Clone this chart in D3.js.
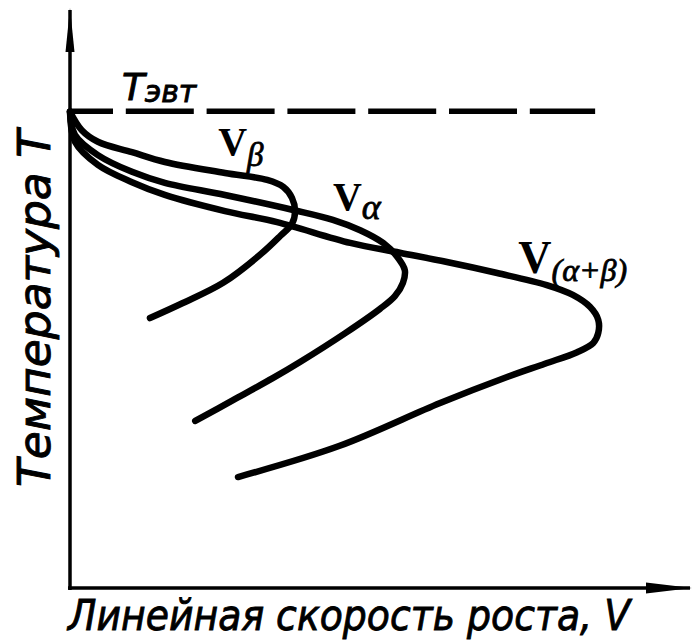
<!DOCTYPE html>
<html>
<head>
<meta charset="utf-8">
<script src="https://cdn.jsdelivr.net/npm/d3@7"></script>
<style>
  html, body { margin: 0; padding: 0; background: #fff; }
  svg { display: block; }
</style>
</head>
<body>
<svg id="chart" width="695" height="644"></svg>
<script>
// Linear growth rate V of the β, α and eutectoid (α+β) fronts versus temperature T.
// Units are relative (0–100) on both axes.

// Eutectoid temperature
const T_EVT = 82.5;

// β phase
const T_BETA = [82.4, 79.2, 77.2, 75.4, 73.7, 71.8, 70.6, 69.4, 67.5, 65.2, 63.0, 60.9, 57.6, 52.8, 49.3, 46.7];
const V_BETA = [0, 1.9, 4.5, 10.0, 15.3, 25.0, 31.8, 34.4, 35.8, 36.3, 35.8, 33.9, 30.6, 24.7, 18.2, 12.9];

// α phase
const T_ALPHA = [82.4, 78.4, 74.9, 72.0, 70.1, 68.0, 65.4, 63.7, 61.9, 59.7, 57.4, 55.0, 52.8, 50.5, 48.3, 44.1, 39.1, 36.3, 32.5, 28.9];
const V_ALPHA = [0, 0.8, 4.5, 10.0, 15.3, 25.0, 36.0, 42.4, 46.8, 50.5, 52.7, 54.0, 53.7, 52.4, 50.0, 44.4, 37.1, 32.7, 26.3, 20.2];

// eutectoid colony (α+β)
const T_EUT = [82.4, 77.2, 73.2, 70.2, 68.0, 65.2, 63.3, 59.7, 58.0, 56.4, 54.5, 52.4, 50.7, 48.6, 46.4, 44.1, 42.4, 40.8, 38.8, 36.5, 32.0, 24.6, 19.2];
const V_EUT = [0, 0.8, 4.5, 10.0, 15.3, 25.0, 33.4, 45.2, 53.2, 60.8, 68.9, 76.9, 81.1, 83.9, 85.2, 85.2, 84.4, 81.8, 76.6, 70.5, 59.7, 43.5, 27.1];

// Texts
const LABEL_EVT = ["Т", "эвт"];
const CURVE_LABELS = [
  { main: "V", sub: "β" },
  { main: "V", sub: "α" },
  { main: "V", sub: "(α+β)" }
];
const X_TITLE = "Линейная скорость роста, V";
const Y_TITLE = "Температура T";

// ---------------------------------------------------------------
const svg = d3.select("#chart");

const x = d3.scaleLinear().domain([0, 100]).range([70, 690]);
const y = d3.scaleLinear().domain([0, 100]).range([588, 10]);

const ink = "#000";

// arrowheads
const defs = svg.append("defs");
defs.append("marker")
  .attr("id", "arrowX")
  .attr("markerUnits", "userSpaceOnUse")
  .attr("viewBox", "0 -7 46 14")
  .attr("refX", 44).attr("refY", 0)
  .attr("markerWidth", 46).attr("markerHeight", 14)
  .attr("orient", "auto")
  .append("path").attr("d", "M0,-5.5L46,0L0,5.5Z").attr("fill", ink);
defs.append("marker")
  .attr("id", "arrowY")
  .attr("markerUnits", "userSpaceOnUse")
  .attr("viewBox", "0 -6 44 12")
  .attr("refX", 42).attr("refY", 0)
  .attr("markerWidth", 44).attr("markerHeight", 12)
  .attr("orient", "auto")
  .append("path").attr("d", "M0,-4.5L44,0L0,4.5Z").attr("fill", ink);

// axes (no ticks, only the arrowed spines)
const xAxis = svg.append("g")
  .attr("transform", `translate(0,${y(0)})`)
  .call(d3.axisBottom(x).ticks(0).tickSizeOuter(0));
xAxis.select(".domain")
  .attr("stroke", ink).attr("stroke-width", 3.5)
  .attr("d", `M${x(0) - 2},0H${x(100)}`)
  .attr("marker-end", "url(#arrowX)");

const yAxis = svg.append("g")
  .attr("transform", `translate(${x(0)},0)`)
  .call(d3.axisLeft(y).ticks(0).tickSizeOuter(0));
yAxis.select(".domain")
  .attr("stroke", ink).attr("stroke-width", 3.5)
  .attr("d", `M0,${y(0) + 2}V${y(100)}`)
  .attr("marker-end", "url(#arrowY)");

// eutectoid temperature, dashed
svg.append("line")
  .attr("x1", x(0)).attr("x2", x(84.7))
  .attr("y1", y(T_EVT)).attr("y2", y(T_EVT))
  .attr("stroke", ink).attr("stroke-width", 5.5)
  .attr("stroke-dasharray", "68,12.8")
  .attr("stroke-dashoffset", 25);

// growth-rate curves
const series = [
  { T: T_BETA, V: V_BETA },
  { T: T_ALPHA, V: V_ALPHA },
  { T: T_EUT, V: V_EUT }
];
const line = d3.line()
  .x(d => x(d[0]))
  .y(d => y(d[1]))
  .curve(d3.curveCatmullRom.alpha(0.5));

svg.append("g").selectAll("path")
  .data(series)
  .join("path")
  .attr("d", s => line(s.V.map((v, i) => [v, s.T[i]])))
  .attr("fill", "none")
  .attr("stroke", ink)
  .attr("stroke-width", 6.5)
  .attr("stroke-linecap", "round")
  .attr("stroke-linejoin", "round");

// T_evt label
const evt = svg.append("text")
  .attr("x", x(8.4)).attr("y", y(84.4))
  .attr("font-family", "DejaVu Sans, sans-serif")
  .attr("font-style", "italic")
  .attr("fill", ink)
  .attr("stroke", ink).attr("stroke-width", 0.9);
evt.append("tspan").attr("font-size", 37).text(LABEL_EVT[0]);
evt.append("tspan").attr("font-size", 30).attr("dx", 0).attr("dy", 2).text(LABEL_EVT[1]);

// curve labels
const labelLayout = [
  { vx: 23.9, ty: 74.9, size: 40, subSize: 33, dy: 11 },
  { vx: 42.4, ty: 65.4, size: 40, subSize: 36, dy: 9 },
  { vx: 72.3, ty: 54.5, size: 46, subSize: 32, dy: 8 }
];
CURVE_LABELS.forEach((lab, i) => {
  const p = labelLayout[i];
  const t = svg.append("text")
    .attr("x", x(p.vx)).attr("y", y(p.ty))
    .attr("font-family", "Liberation Serif, serif")
    .attr("fill", ink);
  t.append("tspan").attr("font-size", p.size).attr("font-weight", "bold").text(lab.main);
  t.append("tspan").attr("font-size", p.subSize).attr("font-style", "italic")
    .attr("stroke", ink).attr("stroke-width", 0.8)
    .attr("dx", 0).attr("dy", p.dy).text(lab.sub);
});

// axis titles
svg.append("text")
  .attr("x", 68).attr("y", 630)
  .attr("font-family", "DejaVu Sans, sans-serif")
  .attr("font-style", "italic")
  .attr("font-size", 42)
  .attr("textLength", 562)
  .attr("lengthAdjust", "spacingAndGlyphs")
  .attr("fill", ink)
  .attr("stroke", ink).attr("stroke-width", 0.9)
  .text(X_TITLE);

svg.append("text")
  .attr("transform", "translate(50,487) rotate(-90)")
  .attr("font-family", "DejaVu Sans, sans-serif")
  .attr("font-style", "italic")
  .attr("font-size", 44)
  .attr("textLength", 357)
  .attr("lengthAdjust", "spacingAndGlyphs")
  .attr("fill", ink)
  .attr("stroke", ink).attr("stroke-width", 0.9)
  .text(Y_TITLE);
</script>
</body>
</html>
